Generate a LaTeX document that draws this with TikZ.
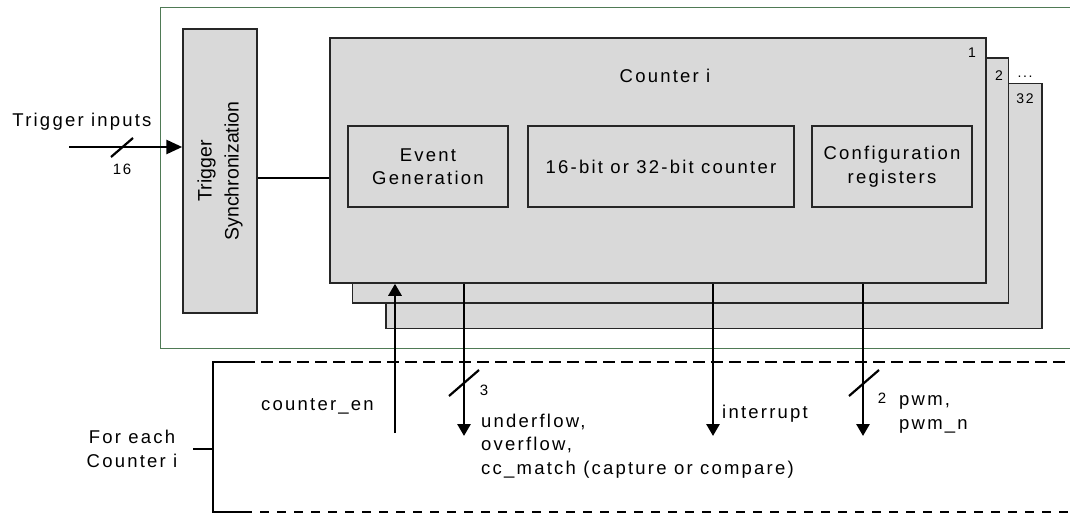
\documentclass[tikz,border=0pt]{standalone}
\usepackage{fontspec}
\setmainfont{Liberation Sans}
\newfontfamily\lblfont[LetterSpace=12]{Liberation Sans}
\usepackage{tikz}
\usetikzlibrary{calc,arrows.meta,positioning}
\definecolor{boxc}{HTML}{D9D9D9}
\definecolor{linec}{HTML}{262626}
\definecolor{framec}{HTML}{4F7A55}
\tikzset{
  txt/.style={font=\lblfont\fontsize{18.5}{23.5}\selectfont,inner sep=0pt},
  small/.style={font=\lblfont\fontsize{14}{16}\selectfont,inner sep=0pt},
  bw/.style={font=\lblfont\fontsize{15}{17}\selectfont,inner sep=0pt},
  cbox/.style={draw=linec,line width=1.5pt,fill=boxc,minimum width=656pt,minimum height=245pt,inner sep=0pt},
  ibox/.style={txt,draw=linec,line width=1.2pt,fill=boxc,minimum height=81pt,align=center},
  sig/.style={-{Triangle[length=12pt,width=13pt]},line width=2.8pt,black},
  bus/.style={line width=2.2pt,black},
  sepline/.style={line width=2.4pt,dash pattern=on 12pt off 6pt}
}
\begin{document}
\begin{tikzpicture}[x=1pt,y=-1pt]
\useasboundingbox (0,0) rectangle (1070,514);
% frame of the timer block
\draw[framec,line width=1pt] (1070,7) -- (160,7) -- (160,348) -- (1070,348);
% trigger synchronization
\node[draw=linec,line width=1.5pt,fill=boxc,minimum width=74pt,minimum height=284pt,inner sep=0pt] (sync) at (220,171) {};
\node[font=\fontsize{19.5}{27}\selectfont,align=center,rotate=90,inner sep=0pt] (synclbl) at (sync.center) {Trigger\\Synchronization};
% counter instances
\foreach \n/\cx/\cy in {3/714/206,2/680.5/180.5,1/658/160.5}
  \node[cbox] (cnt\n) at (\cx,\cy) {};
\node[small] (n1) at (972,52.5) {1};
\node[small] (n2) at (999,76) {2};
\node[small] (ndots) at (1025,77) {...};
\node[small] (n32) at (1025,99) {32};
\node[txt,anchor=base] (ctitle) at (665,82.7) {Counter i};
\node[ibox,minimum width=160pt] (evgen) at (428,166.5) {Event\\Generation};
\node[ibox,minimum width=266pt] (cnt16) at (661,166.5) {16-bit or 32-bit counter};
\node[ibox,minimum width=160pt] (cfg) at (892,166.5) {Configuration\\registers};
% trigger inputs
\node[txt,anchor=base] (trig) at (82,126) {Trigger inputs};
\coordinate (tin) at (69,147);
\draw[sig,-{Triangle[length=16pt,width=14pt]}] (tin) -- (tin -| sync.west);
\draw[bus] (111,157) -- (133,138);
\node[bw] (w16) at (122,169) {16};
\coordinate (lnk) at (330,178);
\draw[line width=2pt] (lnk -| sync.east) -- (lnk -| cnt1.west);
% signals per counter
\coordinate (en) at (395,433);
\coordinate (uf) at (464,436);
\coordinate (irq) at (713,436);
\coordinate (pw) at (863,436);
\draw[sig] (en) -- (en |- cnt1.south);
\foreach \c in {uf,irq,pw}
  \draw[sig] (\c |- cnt1.south) -- (\c);
\foreach \x in {464,864}
  \draw[bus] (\x-15,396) -- (\x+15,370);
\node[bw] (w3) at (484,390) {3};
\node[bw] (w2) at (882,398) {2};
\node[txt,anchor=base west] (enlbl) at (261,410) {counter\_en};
\node[txt,anchor=north west,align=left] (uflbl) at (481,413.5) {underflow,\\overflow,\\cc\_match (capture or compare)};
\node[txt,anchor=base west] (irqlbl) at (722,418) {interrupt};
\node[txt,anchor=north west,align=left] (pwlbl) at (899,395.5) {pwm,\\pwm\_n};
% for each counter
\coordinate (bt) at (213,362);
\coordinate (bb) at (213,512);
\draw[sepline] ([xshift=30pt]bt) -- (1070,362);
\draw[line width=1.6pt,dash pattern=on 9pt off 8pt] ([xshift=30pt]bb) -- (1070,512);
\draw[line width=2.4pt] ([xshift=30pt]bt) -- (bt) -- (bb) -- ([xshift=30pt]bb);
\draw[line width=2.4pt] (193,449) -- (213,449);
\node[txt,anchor=north,align=center] (each) at (132,430) {For each\\Counter i};
\end{tikzpicture}
\end{document}
